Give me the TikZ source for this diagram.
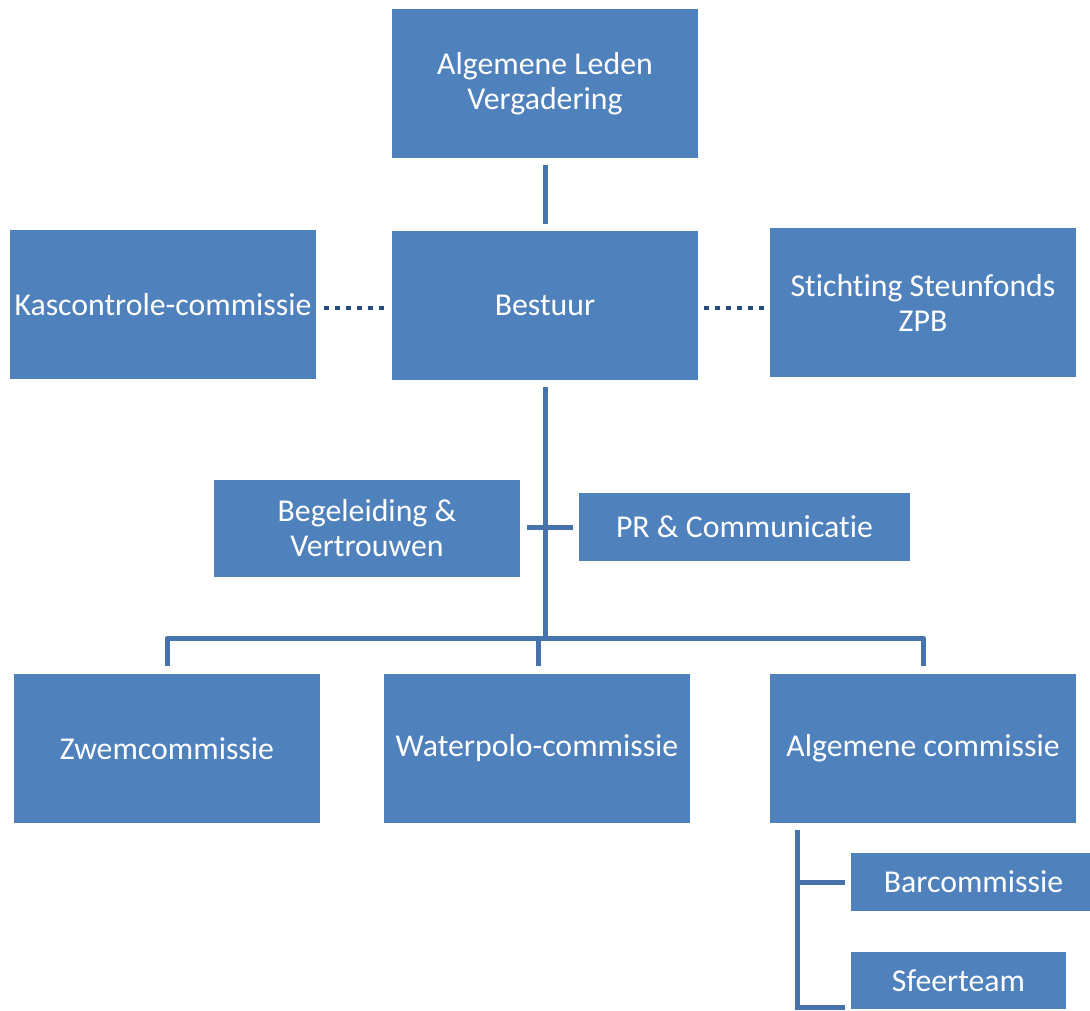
\documentclass[tikz,border=0pt]{standalone}
\usepackage{fontspec}
\setmainfont[Ligatures=NoCommon]{Carlito}
\begin{document}
\begin{tikzpicture}[x=1pt,y=-1pt,
  box/.style={fill=boxblue, draw=none, text=white, align=center, font=\fontsize{31.8}{35}\selectfont, inner sep=0pt},
  conn/.style={draw=lineblue, line width=5pt},
  dotconn/.style={draw=dotblue, line width=4.5pt, dash pattern=on 4.5pt off 6.5pt}
]
\definecolor{boxblue}{HTML}{4F81BD}
\definecolor{lineblue}{HTML}{4673AB}
\definecolor{dotblue}{HTML}{254B7E}
\useasboundingbox (0,0) rectangle (1090,1010);
\newcommand{\bx}[6]{\node[box, minimum width=#4, minimum height=#5] (#1) at (#2,#3) {#6};}
\bx{alv}{545}{83.5}{306}{149}{Algemene Leden\\Vergadering}
\bx{bestuur}{545}{305.5}{306}{149}{Bestuur}
\bx{kas}{163}{304.5}{306}{149}{Kascontrole-commissie}
\bx{stich}{923}{302.5}{306}{149}{Stichting Steunfonds\\ZPB}
\bx{begel}{367}{528.5}{306}{97}{Begeleiding \&\\Vertrouwen}
\bx{pr}{744.5}{527}{331}{68}{PR \& Communicatie}
\bx{zwem}{167}{748.5}{306}{149}{Zwemcommissie}
\bx{wp}{537}{748.5}{306}{149}{Waterpolo-commissie}
\bx{alg}{923}{748.5}{306}{149}{Algemene commissie}
\node[box, minimum width=239, minimum height=58, text width=239, align=center] (bar) at (970.5,882) {\hspace*{6pt}Barcommissie};
\bx{sfeer}{958.5}{980.5}{215}{57}{Sfeerteam}

\coordinate (a1) at (545,165);
\coordinate (a2) at (545,224);
\draw[conn] (a1) -- (a2);
\coordinate (k1) at (324,308);
\coordinate (k2) at (384,308);
\draw[dotconn] (k1) -- (k2);
\coordinate (s1) at (704,308);
\coordinate (s2) at (764,308);
\draw[dotconn] (s1) -- (s2);
\coordinate (b1) at (545,387);
\coordinate (b2) at (545,636);
\draw[conn] (b1) -- (b2);
\coordinate (t1) at (527,527);
\coordinate (t2) at (573,527);
\draw[conn] (t1) -- (t2);
\coordinate (h1) at (167,666);
\coordinate (h2) at (923,666);
\draw[conn, line join=round] (h1) -- (167,638) -- (923,638) -- (h2);
\coordinate (h3) at (538,638);
\coordinate (h4) at (538,666);
\draw[conn] (h3) -- (h4);
\coordinate (g1) at (797,830);
\draw[conn] (g1) -- (797,1007) -- (845,1007);
\coordinate (g2) at (797,882);
\coordinate (g3) at (845,882);
\draw[conn] (g2) -- (g3);
\end{tikzpicture}
\end{document}
